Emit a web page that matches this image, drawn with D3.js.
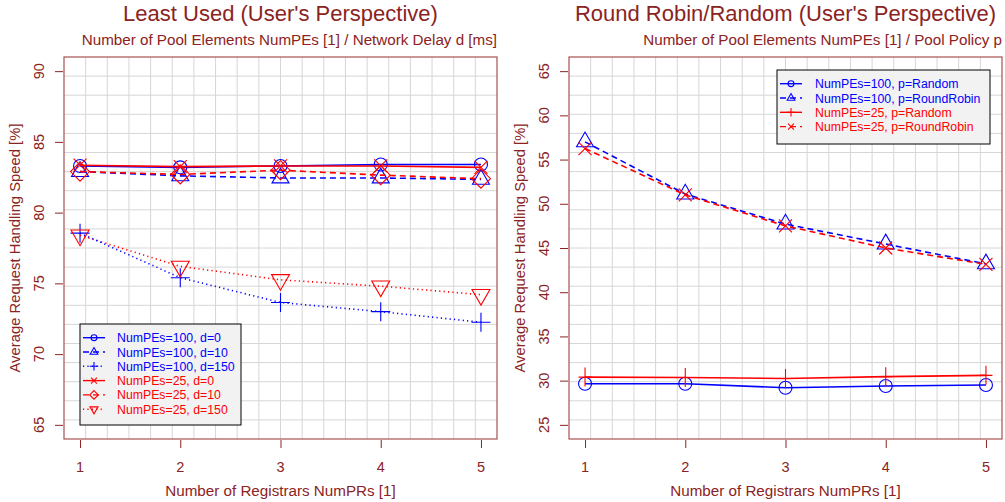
<!DOCTYPE html>
<html>
<head>
<meta charset="utf-8">
<script src="https://cdn.jsdelivr.net/npm/d3@7"></script>
<style>
  body { margin: 0; background: #fff; }
  text { font-family: "Liberation Sans", Arial, sans-serif; }
</style>
</head>
<body>
<svg id="chart" width="1005" height="502"></svg>
<script>
// ---- data ----
const registrars = [1, 2, 3, 4, 5];
const xTicks = [1, 2, 3, 4, 5];

const luYTicks = [65, 70, 75, 80, 85, 90];
const luPE100d0   = [83.3, 83.2, 83.3, 83.4, 83.4];
const luPE100d10  = [82.9, 82.6, 82.45, 82.45, 82.35];
const luPE100d150 = [78.55, 75.4, 73.65, 73.0, 72.25];
const luPE25d0    = [83.35, 83.25, 83.3, 83.3, 83.2];
const luPE25d10   = [82.9, 82.7, 83.0, 82.65, 82.4];
const luPE25d150  = [78.4, 76.2, 75.25, 74.8, 74.2];

const rrYTicks = [25, 30, 35, 40, 45, 50, 55, 60, 65];
const rrPE100Random     = [29.65, 29.65, 29.2, 29.4, 29.5];
const rrPE100RoundRobin = [57.0, 51.1, 47.7, 45.45, 43.2];
const rrPE25Random      = [30.4, 30.35, 30.25, 30.45, 30.6];
const rrPE25RoundRobin  = [56.25, 51.0, 47.5, 45.0, 43.15];

const BLUE = "#0000ff", RED = "#ff0000";
const TXT = "#8b2323", FRAME = "#a85050";
const DASH = "6,4", DOT = "1.2,3.2";

const svg = d3.select("#chart");

// R style point symbols
function marker(g, type, cx, cy, color, k, plusW) {
  const m = g.append("g").attr("transform", "translate(" + cx + "," + cy + ")")
    .attr("fill", "none").attr("stroke", color).attr("stroke-width", 1.1);
  if (type === "circle") {
    m.append("circle").attr("r", 6.5 * k);
  } else if (type === "triangle") {
    const w = 8.5 * k, h = w * Math.sqrt(3);
    m.append("path").attr("d", `M${-w},${h / 3}L${w},${h / 3}L0,${-2 * h / 3}Z`);
  } else if (type === "down") {
    const w = 9 * k, h = w * Math.sqrt(3);
    m.append("path").attr("d", `M${-w},${-h / 3}L${w},${-h / 3}L0,${2 * h / 3}Z`);
  } else if (type === "plus") {
    const s = 9.5 * k, sw = (plusW || 9.5) * k;
    m.append("path").attr("d", `M${-sw},0L${sw},0M0,${-s}L0,${s}`);
  } else if (type === "cross") {
    const s = 6.5 * k;
    m.append("path").attr("d", `M${-s},${-s}L${s},${s}M${-s},${s}L${s},${-s}`);
  } else if (type === "diamond") {
    const s = 9.5 * k;
    m.append("path").attr("d", `M0,${-s}L${s},0L0,${s}L${-s},0Z`);
  }
}

function drawPanel(p) {
  const g = svg.append("g").attr("transform", "translate(" + p.dx + ",0)");
  const x0 = 64, x1 = 497, y0 = 57, y1 = 439;

  const x = d3.scaleLinear().domain([0.84, 5.16]).range([x0, x1]);
  const ext = (p.yMax - p.yMin) * 0.04;
  const y = d3.scaleLinear().domain([p.yMin - ext, p.yMax + ext]).range([y1, y0]);

  // grid: 20 x 20 cells over the plot box
  const grid = g.append("g").attr("stroke", "#d6d6d6").attr("stroke-width", 1);
  d3.range(1, 20).forEach(function(i) {
    const gx = x0 + (x1 - x0) * i / 20, gy = y0 + (y1 - y0) * i / 20;
    grid.append("line").attr("x1", gx).attr("x2", gx).attr("y1", y0).attr("y2", y1);
    grid.append("line").attr("x1", x0).attr("x2", x1).attr("y1", gy).attr("y2", gy);
  });

  // axes
  const ya = g.append("g").attr("transform", "translate(" + (x0 - 1) + ",0)")
    .call(d3.axisLeft(y).tickValues(p.yTicks).tickSize(8).tickFormat(""));
  ya.select(".domain").remove();
  ya.selectAll("line").attr("stroke", TXT);
  p.yTicks.forEach(function(v) {
    g.append("text").attr("transform", "translate(43.5," + y(v) + ") rotate(-90)")
      .attr("text-anchor", "middle").attr("fill", TXT).style("font-size", "14.5px").text(v);
  });

  const xa = g.append("g").attr("transform", "translate(0," + (y1 + 1) + ")")
    .call(d3.axisBottom(x).tickValues(xTicks).tickSize(8).tickFormat(""));
  xa.select(".domain").remove();
  xa.selectAll("line").attr("stroke", TXT);
  xTicks.forEach(function(v) {
    g.append("text").attr("x", x(v)).attr("y", 472).attr("text-anchor", "middle")
      .attr("fill", TXT).style("font-size", "14.5px").text(v);
  });

  // series
  p.series.forEach(function(s) {
    const line = d3.line().x(function(d, i) { return x(registrars[i]); }).y(function(d) { return y(d); });
    g.append("path").attr("d", line(s.values)).attr("fill", "none")
      .attr("stroke", s.color).attr("stroke-width", 1.6)
      .attr("stroke-dasharray", s.dash || null);
    s.values.forEach(function(v, i) { marker(g, s.marker, x(registrars[i]), y(v), s.color, 1, p.plusW); });
  });

  // frame
  g.append("rect").attr("x", x0).attr("y", y0).attr("width", x1 - x0).attr("height", y1 - y0)
    .attr("fill", "none").attr("stroke", FRAME).attr("stroke-width", 1.2);

  // texts
  g.append("text").attr("x", (x0 + x1) / 2).attr("y", 21).attr("text-anchor", "middle")
    .attr("fill", TXT).style("font-size", "22px").text(p.title);
  g.append("text").attr("x", x1).attr("y", 45).attr("text-anchor", "end")
    .attr("fill", TXT).style("font-size", "15.2px").text(p.subtitle);
  g.append("text").attr("x", (x0 + x1) / 2).attr("y", 496).attr("text-anchor", "middle")
    .attr("fill", TXT).style("font-size", "15.2px").text("Number of Registrars NumPRs [1]");
  g.append("text").attr("transform", "translate(20," + (y0 + y1) / 2 + ") rotate(-90)")
    .attr("text-anchor", "middle").attr("fill", TXT).style("font-size", "14.8px")
    .text("Average Request Handling Speed [%]");

  // legend
  const L = p.legend;
  const lg = g.append("g");
  lg.append("rect").attr("x", L.x).attr("y", L.y).attr("width", L.w).attr("height", L.h)
    .attr("fill", "#f2f2f2").attr("stroke", "#000").attr("stroke-width", 1);
  p.series.forEach(function(s, i) {
    const cy = L.y + 13.7 + i * 14.3;
    lg.append("line").attr("x1", L.x + 3).attr("x2", L.x + 25).attr("y1", cy).attr("y2", cy)
      .attr("stroke", s.color).attr("stroke-width", 1.4).attr("stroke-dasharray", s.dash || null);
    marker(lg, s.marker, L.x + 14, cy, s.color, 0.45);
    lg.append("text").attr("x", L.x + L.tx).attr("y", cy + 4.5).attr("fill", s.color)
      .style("font-size", "12.3px").text(s.name);
  });
}

drawPanel({
  dx: 0,
  title: "Least Used (User's Perspective)",
  subtitle: "Number of Pool Elements NumPEs [1] / Network Delay d [ms]",
  yMin: 65, yMax: 90, yTicks: luYTicks,
  legend: { x: 80, y: 324, w: 161, h: 101, tx: 37 },
  series: [
    { name: "NumPEs=100, d=0",   values: luPE100d0,   color: BLUE, dash: null, marker: "circle" },
    { name: "NumPEs=100, d=10",  values: luPE100d10,  color: BLUE, dash: DASH, marker: "triangle" },
    { name: "NumPEs=100, d=150", values: luPE100d150, color: BLUE, dash: DOT,  marker: "plus" },
    { name: "NumPEs=25, d=0",    values: luPE25d0,    color: RED,  dash: null, marker: "cross" },
    { name: "NumPEs=25, d=10",   values: luPE25d10,   color: RED,  dash: DASH, marker: "diamond" },
    { name: "NumPEs=25, d=150",  values: luPE25d150,  color: RED,  dash: DOT,  marker: "down" }
  ]
});

drawPanel({
  dx: 505,
  title: "Round Robin/Random (User's Perspective)",
  subtitle: "Number of Pool Elements NumPEs [1] / Pool Policy p",
  yMin: 25, yMax: 65, yTicks: rrYTicks,
  plusW: 6.5,
  legend: { x: 272, y: 70, w: 213, h: 74, tx: 38 },
  series: [
    { name: "NumPEs=100, p=Random",     values: rrPE100Random,     color: BLUE, dash: null, marker: "circle" },
    { name: "NumPEs=100, p=RoundRobin", values: rrPE100RoundRobin, color: BLUE, dash: DASH, marker: "triangle" },
    { name: "NumPEs=25, p=Random",      values: rrPE25Random,      color: RED,  dash: null, marker: "plus" },
    { name: "NumPEs=25, p=RoundRobin",  values: rrPE25RoundRobin,  color: RED,  dash: DASH, marker: "cross" }
  ]
});
</script>
</body>
</html>
